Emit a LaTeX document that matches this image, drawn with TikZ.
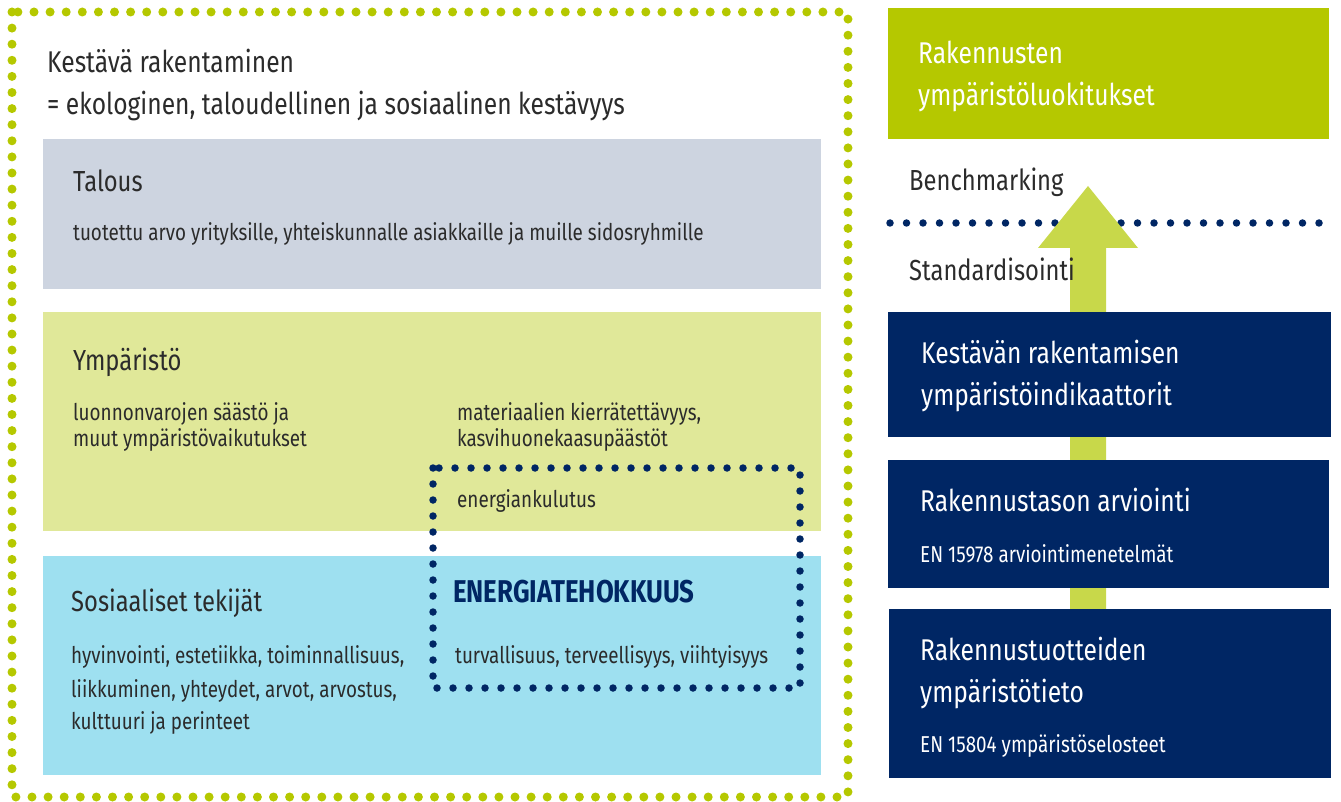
\documentclass[tikz,border=0pt]{standalone}
\usepackage{fontspec}
\setmainfont[FakeStretch=0.82]{Fira Sans}
\definecolor{lime}{HTML}{B5C800}
\definecolor{limelight}{HTML}{C8D84A}
\definecolor{navy}{HTML}{002664}
\definecolor{greybox}{HTML}{CDD4E0}
\definecolor{greenbox}{HTML}{E0E899}
\definecolor{bluebox}{HTML}{9EE0F0}
\definecolor{txt}{HTML}{2B2B2B}
\tikzset{
  lbl/.style={anchor=base west, inner sep=0pt, text=txt},
  big/.style={lbl, font=\fontsize{30}{36}\selectfont},
  head/.style={lbl, font=\fontsize{29}{34}\selectfont},
  small/.style={lbl, font=\fontsize{23}{28}\selectfont},
  limedots/.style={draw=lime, line width=9pt, line cap=round, dash pattern=on 0pt off 16.1pt},
  navydots/.style={draw=navy, line width=7.5pt, line cap=round, dash pattern=on 0pt off 16pt},
}
\begin{document}
\begin{tikzpicture}[x=1pt,y=-1pt]
\useasboundingbox (0,0) rectangle (1341,802);
% left panels
\fill[greybox] (43,139) rectangle (821,289);
\fill[greenbox] (43,312) rectangle (821,531);
\fill[bluebox] (43,556) rectangle (821,775);
\draw[limedots] (12,12) rectangle (848,797);
\draw[navydots] (433,468) rectangle (800,688);
% left texts
\node[big] (t1) at (47,73) {Kestävä rakentaminen};
\node[big] (t2) at (47,115) {= ekologinen, taloudellinen ja sosiaalinen kestävyys};
\node[head] (tal) at (73,192) {Talous};
\node[small] (tal2) at (73,241) {tuotettu arvo yrityksille, yhteiskunnalle asiakkaille ja muille sidosryhmille};
\node[head] (ymp) at (73,370) {Ympäristö};
\node[small] (ymp1) at (73,420) {luonnonvarojen säästö ja};
\node[small] (ymp2) at (73,446) {muut ympäristövaikutukset};
\node[small] (mat1) at (457,420) {materiaalien kierrätettävyys,};
\node[small] (mat2) at (457,446) {kasvihuonekaasupäästöt};
\node[small] (ene) at (457,507) {energiankulutus};
\node[lbl, text=navy, font=\fontsize{31.5}{36}\bfseries\selectfont] (et) at (453,602) {ENERGIATEHOKKUUS};
\node[head] (sos) at (71,611) {Sosiaaliset tekijät};
\node[small] (sos1) at (71,663) {hyvinvointi, estetiikka, toiminnallisuus,};
\node[small] (sos2) at (71,697) {liikkuminen, yhteydet, arvot, arvostus,};
\node[small] (sos3) at (71,729) {kulttuuri ja perinteet};
\node[small] (tur) at (455,663) {turvallisuus, terveellisyys, viihtyisyys};
% right column
\fill[lime] (888,8) rectangle (1329,139);
\node[big, text=white] (r1) at (918,64) {Rakennusten};
\node[big, text=white] (r2) at (918,106) {ympäristöluokitukset};
\draw[navydots, dash pattern=on 0pt off 16.5pt] (890,223) -- (1333,223);
\fill[limelight] (1070,610) -- (1070,248) -- (1038,248) -- (1088,186) -- (1138,248) -- (1106,248) -- (1106,610) -- cycle;
\node[head] (bench) at (909,191) {Benchmarking};
\node[head] (std) at (909,280) {Standardisointi};
\fill[navy] (888,312) rectangle (1331,437);
\node[big, text=white] (k1) at (921,363) {Kestävän rakentamisen};
\node[big, text=white] (k2) at (921,405) {ympäristöindikaattorit};
\fill[navy] (888,460) rectangle (1329,588);
\node[big, text=white] (a1) at (920,511) {Rakennustason arviointi};
\node[small, text=white] (a2) at (920,562) {EN 15978 arviointimenetelmät};
\fill[navy] (889,609) rectangle (1331,778);
\node[big, text=white] (p1) at (920,660) {Rakennustuotteiden};
\node[big, text=white] (p2) at (920,702) {ympäristötieto};
\node[small, text=white] (p3) at (920,752) {EN 15804 ympäristöselosteet};
\end{tikzpicture}
\end{document}
